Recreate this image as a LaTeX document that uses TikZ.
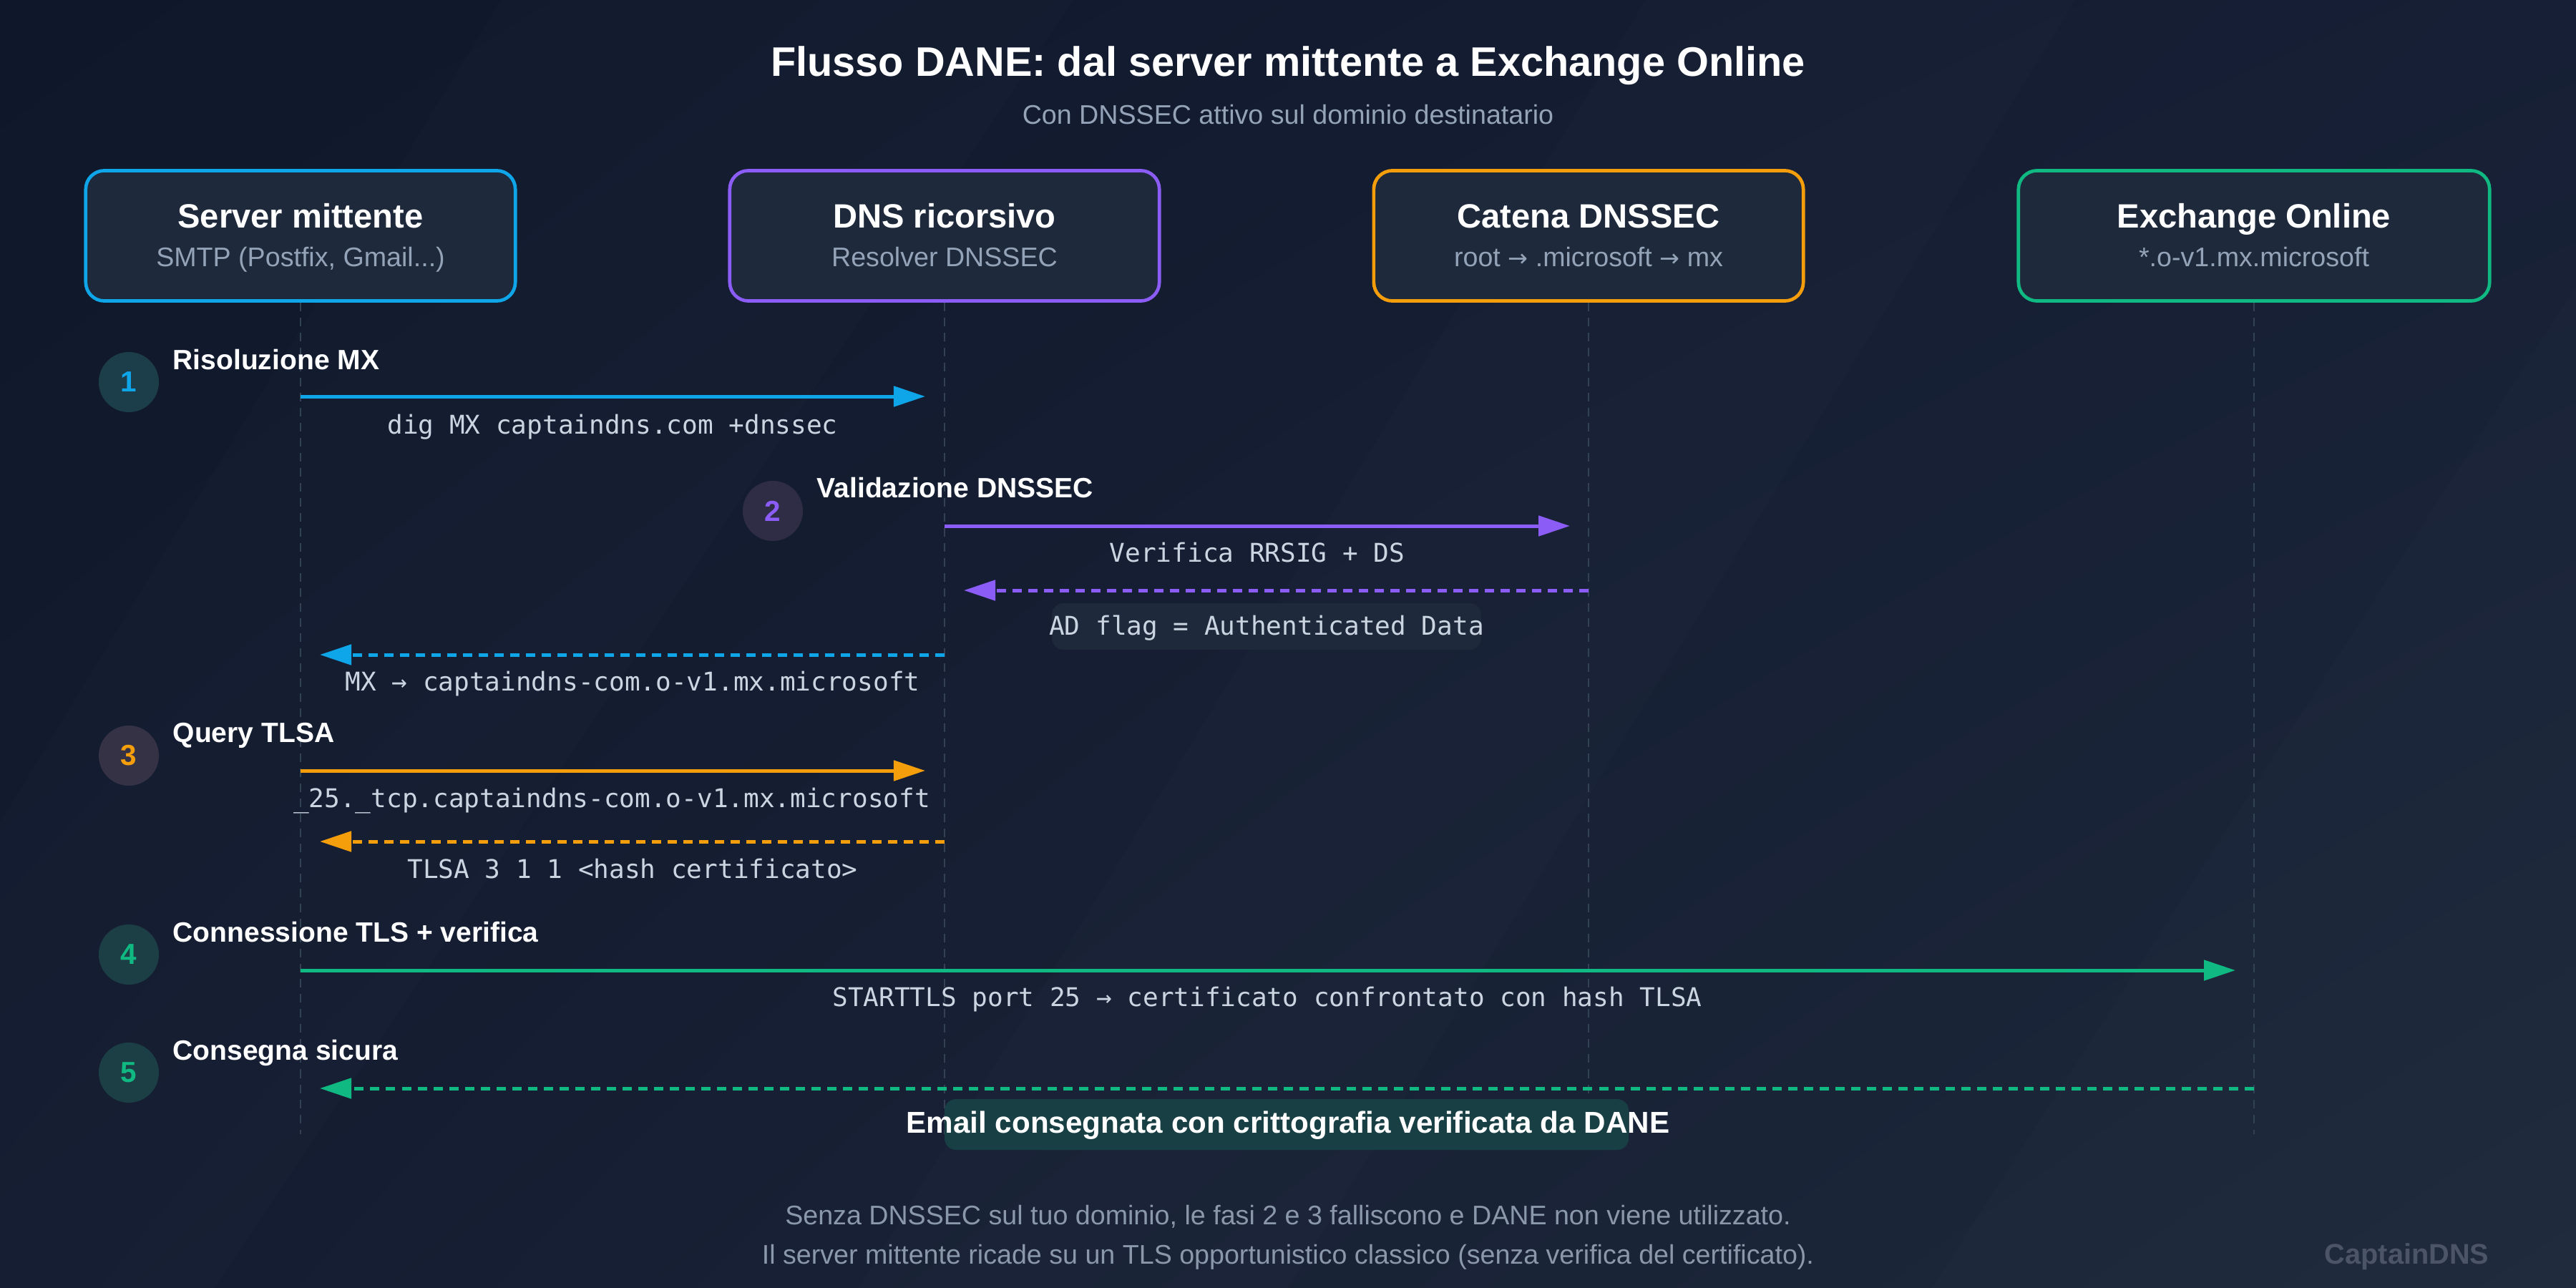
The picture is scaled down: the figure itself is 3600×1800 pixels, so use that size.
\documentclass[tikz,border=0pt]{standalone}
\usepackage{fontspec}
\setmainfont{Liberation Sans}
\setmonofont{DejaVu Sans Mono}
\newfontfamily\arrowfont{DejaVu Sans}
\usetikzlibrary{arrows.meta,shadings}
\definecolor{bgA}{HTML}{0F172A}
\definecolor{bgB}{HTML}{1E293B}
\definecolor{bgC}{HTML}{141C31}
\definecolor{bgD}{HTML}{161F35}
\definecolor{boxfill}{HTML}{1E293B}
\definecolor{cCyan}{HTML}{0EA5E9}
\definecolor{cPurple}{HTML}{8B5CF6}
\definecolor{cOrange}{HTML}{F59E0B}
\definecolor{cGreen}{HTML}{10B981}
\definecolor{txtGrey}{HTML}{94A3B8}
\definecolor{footGrey}{HTML}{8B97AB}
\definecolor{monoTxt}{HTML}{CBD5E1}
\definecolor{lifeC}{HTML}{334155}
\definecolor{brandC}{HTML}{4B5567}
\definecolor{circA}{HTML}{1C3D4A}
\definecolor{circB}{HTML}{2F2C45}
\definecolor{circC}{HTML}{363246}
\definecolor{circD}{HTML}{1B3F44}
\definecolor{emailBg}{HTML}{173F44}
\definecolor{adBg}{HTML}{1E293B}
\newcommand{\rarr}{{\arrowfont\fontsize{9.5}{12}\selectfont →}}
\begin{document}
\begin{tikzpicture}[x=0.01cm,y=-0.01cm,
  actor/.style={draw=#1, line width=0.047cm, fill=boxfill, rounded corners=0.26cm,
    minimum width=6cm, minimum height=1.82cm, inner sep=0pt},
  atitle/.style={text=white, font=\fontsize{13.4}{16}\selectfont\bfseries, anchor=base, inner sep=0pt},
  asub/.style={text=txtGrey, font=\fontsize{10.7}{13}\selectfont, anchor=base, inner sep=0pt},
  life/.style={draw=lifeC, line width=0.02cm, dash pattern=on 0.12cm off 0.09cm},
  msg/.style={draw=#1, line width=0.05cm, -{Triangle[length=0.44cm,width=0.28cm,fill=#1]}},
  ret/.style={msg=#1, dash pattern=on 0.13cm off 0.09cm},
  mlabel/.style={text=monoTxt, font=\fontsize{10.25}{12}\selectfont\ttfamily, anchor=base, inner sep=0pt},
  stepnum/.style={circle, minimum size=0.84cm, inner sep=0pt, fill=#1,
    font=\fontsize{11.5}{13}\selectfont\bfseries},
  steplabel/.style={text=white, font=\fontsize{11.1}{13}\selectfont\bfseries, anchor=base west, inner sep=0pt}
]
% background
\useasboundingbox (0,0) rectangle (3600,1800);
\shade[upper left=bgA, upper right=bgD, lower left=bgC, lower right=bgB] (0,0) rectangle (3600,1800);
\fill[white, opacity=0.012] (0,1800) -- (0,1150) -- (700,0) -- (1500,0) -- (300,1800) -- cycle;
\fill[white, opacity=0.01] (1200,1800) -- (2300,0) -- (2900,0) -- (1800,1800) -- cycle;
\fill[white, opacity=0.012] (2700,1800) -- (3600,400) -- (3600,1800) -- cycle;

% title
\node[text=white, font=\fontsize{16.4}{20}\selectfont\bfseries, anchor=base, inner sep=0pt] (title) at (1800,107) {Flusso DANE: dal server mittente a Exchange Online};
\node[text=txtGrey, font=\fontsize{10.7}{13}\selectfont, anchor=base, inner sep=0pt] (subtitle) at (1800,174) {Con DNSSEC attivo sul dominio destinatario};

% actors
\node[actor=cCyan] (srv) at (420,329.5) {};
\node[atitle] (srvT) at (420,318) {Server mittente};
\node[asub] (srvS) at (420,372) {SMTP (Postfix, Gmail...)};

\node[actor=cPurple] (dns) at (1320,329.5) {};
\node[atitle] (dnsT) at (1320,318) {DNS ricorsivo};
\node[asub] (dnsS) at (1320,372) {Resolver DNSSEC};

\node[actor=cOrange] (chain) at (2220,329.5) {};
\node[atitle] (chainT) at (2220,318) {Catena DNSSEC};
\node[asub] (chainS) at (2220,372) {root \rarr{} .microsoft \rarr{} mx};

\node[actor=cGreen, minimum width=6.58cm] (exo) at (3150,329.5) {};
\node[atitle] (exoT) at (3150,318) {Exchange Online};
\node[asub] (exoS) at (3150,372) {*.o-v1.mx.microsoft};

% lifelines
\coordinate (e1) at (420,1585);
\coordinate (e2) at (1320,1585);
\coordinate (e3) at (2220,1585);
\coordinate (e4) at (3150,1585);
\draw[life] (srv.south) -- (e1);
\draw[life] (dns.south) -- (e2);
\draw[life] (chain.south) -- (e3);
\draw[life] (exo.south) -- (e4);

% step markers
\node[stepnum=circA, text=cCyan] (s1) at (180,534) {1};
\node[steplabel] (s1L) at (241,516) {Risoluzione MX};
\node[stepnum=circB, text=cPurple] (s2) at (1080,714) {2};
\node[steplabel] (s2L) at (1141,695) {Validazione DNSSEC};
\node[stepnum=circC, text=cOrange] (s3) at (180,1056) {3};
\node[steplabel] (s3L) at (241,1037) {Query TLSA};
\node[stepnum=circD, text=cGreen] (s4) at (180,1334) {4};
\node[steplabel] (s4L) at (241,1316) {Connessione TLS + verifica};
\node[stepnum=circD, text=cGreen] (s5) at (180,1499) {5};
\node[steplabel] (s5L) at (241,1481) {Consegna sicura};

% message end points
\coordinate (m1a) at (420,554);  \coordinate (m1b) at (1293,554);
\coordinate (m2a) at (1320,735); \coordinate (m2b) at (2194,735);
\coordinate (m3a) at (2220,825); \coordinate (m3b) at (1347,825);
\coordinate (m4a) at (1320,915); \coordinate (m4b) at (447,915);
\coordinate (m5a) at (420,1077); \coordinate (m5b) at (1293,1077);
\coordinate (m6a) at (1320,1176); \coordinate (m6b) at (447,1176);
\coordinate (m7a) at (420,1356); \coordinate (m7b) at (3124,1356);
\coordinate (m8a) at (3150,1521); \coordinate (m8b) at (447,1521);

% label backgrounds
\fill[adBg, rounded corners=0.16cm] (1470,843) rectangle (2070,908);
\fill[emailBg, rounded corners=0.16cm] (1320,1536) rectangle (2276,1607);

% messages
\draw[msg=cCyan] (m1a) -- (m1b);
\node[mlabel] (l1) at (856,606) {dig MX captaindns.com +dnssec};

\draw[msg=cPurple] (m2a) -- (m2b);
\node[mlabel] (l2) at (1757,785) {Verifica RRSIG + DS};

\draw[ret=cPurple] (m3a) -- (m3b);
\node[mlabel] (l3) at (1770,887) {AD flag = Authenticated Data};

\draw[ret=cCyan] (m4a) -- (m4b);
\node[mlabel] (l4) at (884,965) {MX → captaindns-com.o-v1.mx.microsoft};

\draw[msg=cOrange] (m5a) -- (m5b);
\node[mlabel] (l5) at (855,1128) {\_25.\_tcp.captaindns-com.o-v1.mx.microsoft};

\draw[ret=cOrange] (m6a) -- (m6b);
\node[mlabel] (l6) at (884,1227) {TLSA 3 1 1 <hash certificato>};

\draw[msg=cGreen] (m7a) -- (m7b);
\node[mlabel] (l7) at (1771,1406) {STARTTLS port 25 → certificato confrontato con hash TLSA};

\draw[ret=cGreen] (m8a) -- (m8b);
\node[text=white, font=\fontsize{12}{14}\selectfont\bfseries, anchor=base, inner sep=0pt] (l8) at (1800,1583) {Email consegnata con crittografia verificata da DANE};

% footer
\node[text=footGrey, font=\fontsize{10.7}{13}\selectfont, anchor=base, inner sep=0pt] (f1) at (1800,1711) {Senza DNSSEC sul tuo dominio, le fasi 2 e 3 falliscono e DANE non viene utilizzato.};
\node[text=footGrey, font=\fontsize{10.7}{13}\selectfont, anchor=base, inner sep=0pt] (f2) at (1800,1766) {Il server mittente ricade su un TLS opportunistico classico (senza verifica del certificato).};
\node[text=brandC, font=\fontsize{11.3}{13}\selectfont\bfseries, anchor=base east, inner sep=0pt] (brand) at (3479,1766) {CaptainDNS};
\end{tikzpicture}
\end{document}
